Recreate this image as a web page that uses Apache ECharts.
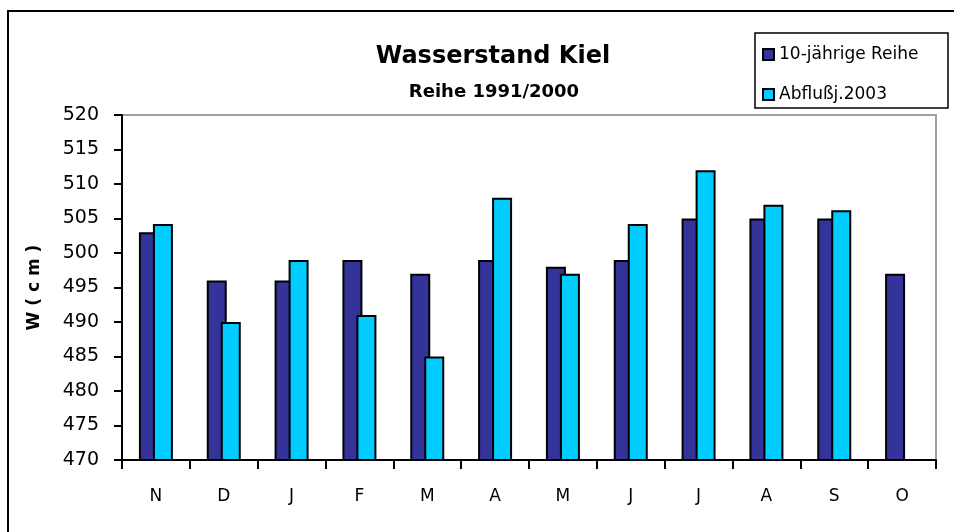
<!DOCTYPE html>
<html>
<head>
<meta charset="utf-8">
<title>Wasserstand Kiel</title>
<script src="https://cdn.jsdelivr.net/npm/echarts@6/dist/echarts.min.js"></script>
<style>
	html,body{margin:0;padding:0;background:#fff;}
	#main{width:954px;height:532px;}
</style>
</head>
<body>
<div id="main"></div>
<script>
//月份（11月 - 10月）
var months = ['N','D','J','F','M','A','M','J','J','A','S','O'];
//10-jährige Reihe
var reihe = [503,496,496,499,497,499,498,499,505,505,505,497];
//Abflußj.2003 （10月无值）
var abfluss = [504.2,490,499,491,485,508,497,504.2,512,507,506.2,'-'];
//y轴
var yMin = 470, yMax = 520, yStep = 5;

var seriesNames = ['10-jährige Reihe','Abflußj.2003'];
var colors = ['#333399','#00CCFF'];
var font = 'DejaVu Sans';

var chart = echarts.init(document.getElementById('main'));

var option = {
	animation:false,
	backgroundColor:'#fff',
	title:[{
		text:'Wasserstand Kiel',
		left:488,
		top:40,
		textAlign:'center',
		textStyle:{fontFamily:font,fontSize:24,fontWeight:'bold',color:'#000'}
	},{
		text:'Reihe 1991/2000',
		left:489,
		top:78,
		textAlign:'center',
		textStyle:{fontFamily:font,fontSize:18,fontWeight:'bold',color:'#000'}
	}],
	legend:{
		orient:'vertical',
		left:757,
		top:41,
		itemWidth:11,
		itemHeight:11,
		itemGap:23,
		icon:'rect',
		data:seriesNames,
		textStyle:{fontFamily:font,fontSize:17,color:'#000'}
	},
	//外框和图例框
	graphic:[{
		type:'rect',
		z:-1,
		shape:{x:8,y:11,width:1000,height:600},
		style:{fill:'none',stroke:'#000',lineWidth:2}
	},{
		type:'rect',
		shape:{x:755,y:33,width:193,height:75},
		style:{fill:'none',stroke:'#000',lineWidth:1.5}
	}],
	grid:{
		left:122,
		right:18,
		top:115,
		bottom:72,
		show:true,
		borderColor:'#a0a0a0',
		borderWidth:2
	},
	xAxis:{
		type:'category',
		data:months,
		axisLine:{lineStyle:{color:'#000',width:2}},
		axisTick:{show:true,length:9,lineStyle:{color:'#000',width:2}},
		axisLabel:{fontFamily:font,fontSize:17,color:'#000',margin:28}
	},
	yAxis:{
		type:'value',
		min:yMin,
		max:yMax,
		interval:yStep,
		name:'W ( c m )',
		nameLocation:'middle',
		nameGap:79,
		nameTextStyle:{fontFamily:font,fontSize:17,fontWeight:'bold',color:'#000'},
		axisLine:{show:true,lineStyle:{color:'#000',width:2}},
		axisTick:{show:true,length:8,lineStyle:{color:'#000',width:2}},
		axisLabel:{fontFamily:font,fontSize:19,color:'#000',margin:23},
		splitLine:{show:false}
	},
	series:[{
		name:seriesNames[0],
		type:'bar',
		data:reihe,
		barWidth:20,
		barGap:'-30%',
		itemStyle:{color:colors[0],borderColor:'#000',borderWidth:2}
	},{
		name:seriesNames[1],
		type:'bar',
		data:abfluss,
		barWidth:20,
		itemStyle:{color:colors[1],borderColor:'#000',borderWidth:2}
	}]
};

chart.setOption(option);
</script>
</body>
</html>
